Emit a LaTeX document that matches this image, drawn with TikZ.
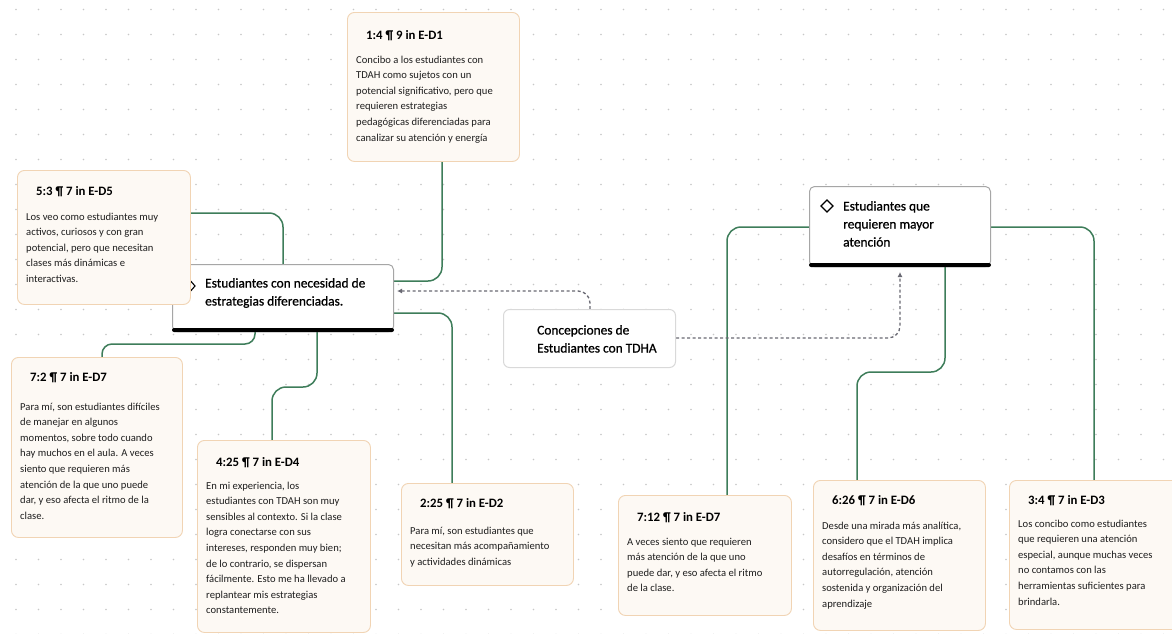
\documentclass[tikz,border=0pt]{standalone}
\usepackage{fontspec}
\setmainfont{Carlito}
\newfontfamily\headfont[FakeBold=0.8]{Carlito}
\usetikzlibrary{arrows.meta}
\definecolor{linkgreen}{RGB}{62,125,90}
\definecolor{quotefill}{RGB}{253,249,244}
\definecolor{quoteedge}{RGB}{241,212,180}
\definecolor{dashgray}{RGB}{105,105,115}
\definecolor{dotgray}{RGB}{200,200,200}
\definecolor{bodyink}{RGB}{30,30,30}
\pgfdeclarelayer{dots}
\pgfdeclarelayer{links}
\pgfsetlayers{dots,links,main}
\tikzset{
  conn/.style={draw=linkgreen, line width=1.5pt, rounded corners=14pt},
  link/.style={draw=dashgray, line width=1.3pt, dash pattern=on 3pt off 2.5pt,
    rounded corners=12pt, -{Latex[length=5pt,width=5pt]}},
  qframe/.style={draw=quoteedge, fill=quotefill, line width=0.9pt, rounded corners=7pt, inner sep=0pt},
  qtitle/.style={font=\bfseries\fontsize{12.8}{15}\selectfont, inner sep=0pt},
  qbody/.style={font=\fontsize{10.6}{15.6}\selectfont, text=bodyink, align=left, inner sep=0pt},
  topic/.style={draw=gray!70, fill=white, line width=1pt, rounded corners=5pt, inner sep=0pt},
  lighttopic/.style={draw=gray!30, fill=white, line width=1pt, rounded corners=6pt, inner sep=0pt},
  headtext/.style={font=\headfont\fontsize{13.4}{18}\selectfont, align=left, inner sep=0pt},
}
% quote card: name, left, top, right, bottom, title centre y, first body line centre y, title, body
\newcommand\quotecard[9]{%
  \node[qframe, anchor=north west, minimum width={#4-#2}, minimum height={#5-#3}] (#1) at (#2,#3) {};
  \node[qtitle, anchor=base west] (#1t) at (#2+19,#6+4.5) {#8};
  \node[qbody, anchor=north west] (#1b) at (#2+9,#7-5.5) {#9};
}
\begin{document}
\begin{tikzpicture}[x=1pt,y=-1pt]
\useasboundingbox (0,0) rectangle (1172,633);

% dotted canvas
\begin{pgfonlayer}{dots}
\fill[white] (0,0) rectangle (1172,633);
\foreach \i in {0,...,51}
  \foreach \j in {0,...,25}
    \fill[dotgray] (16+22.5*\i, 9.5+25*\j) circle (0.9pt);
\end{pgfonlayer}

\clip (0,0) rectangle (1172,633);

% left topic
\node[topic, anchor=north west, minimum width=221pt, minimum height=67pt] (m1) at (172,264) {};
\fill[black, rounded corners=2pt] ([yshift=4pt]m1.south west) rectangle (m1.south east);
\draw[line width=1.1pt, fill=white] (182,286) -- (188.5,278.5) -- (195,286) -- (188.5,293.5) -- cycle;
\node[headtext, anchor=north west] (m1t) at (205,278) {Estudiantes con necesidad de\\estrategias diferenciadas.};

% right topic
\node[topic, anchor=north west, minimum width=181pt, minimum height=80pt] (m2) at (809,186) {};
\fill[black, rounded corners=2pt] ([yshift=4pt]m2.south west) rectangle (m2.south east);
\draw[line width=1.1pt, fill=white] (821,206) -- (827,200) -- (833,206) -- (827,212) -- cycle;
\node[headtext, anchor=north west] (m2t) at (843,201) {Estudiantes que\\requieren mayor\\atención};

% central concept
\node[lighttopic, anchor=north west, minimum width=172pt, minimum height=58pt] (cc) at (503,309) {};
\node[headtext, anchor=north west] (cct) at (537,325) {Concepciones de\\Estudiantes con TDHA};

% quote cards
\quotecard{d14}{347}{12}{519}{161}{35}{61}{1:4 ¶ 9 in E-D1}
  {Concibo a los estudiantes con\\TDAH como sujetos con un\\potencial significativo, pero que\\requieren estrategias\\pedagógicas diferenciadas para\\canalizar su atención y energía}
\quotecard{d53}{17}{170}{190}{304}{191}{218}{5:3 ¶ 7 in E-D5}
  {Los veo como estudiantes muy\\activos, curiosos y con gran\\potencial, pero que necesitan\\clases más dinámicas e\\interactivas.}
\quotecard{d72}{11}{357}{182}{537}{377}{408}{7:2 ¶ 7 in E-D7}
  {Para mí, son estudiantes difíciles\\de manejar en algunos\\momentos, sobre todo cuando\\hay muchos en el aula. A veces\\siento que requieren más\\atención de la que uno puede\\dar, y eso afecta el ritmo de la\\clase.}
\quotecard{d425}{197}{440}{370}{632}{462}{487}{4:25 ¶ 7 in E-D4}
  {En mi experiencia, los\\estudiantes con TDAH son muy\\sensibles al contexto. Si la clase\\logra conectarse con sus\\intereses, responden muy bien;\\de lo contrario, se dispersan\\fácilmente. Esto me ha llevado a\\replantear mis estrategias\\constantemente.}
\quotecard{d225}{401}{483}{573}{585}{503}{532}{2:25 ¶ 7 in E-D2}
  {Para mí, son estudiantes que\\necesitan más acompañamiento\\y actividades dinámicas}
\quotecard{d712}{618}{495}{791}{615}{517}{543}{7:12 ¶ 7 in E-D7}
  {A veces siento que requieren\\más atención de la que uno\\puede dar, y eso afecta el ritmo\\de la clase.}
\quotecard{d626}{813}{480}{985}{630}{500}{527}{6:26 ¶ 7 in E-D6}
  {Desde una mirada más analítica,\\considero que el TDAH implica\\desafíos en términos de\\autorregulación, atención\\sostenida y organización del\\aprendizaje}
\quotecard{d34}{1009}{480}{1185}{629}{500}{525}{3:4 ¶ 7 in E-D3}
  {Los concibo como estudiantes\\que requieren una atención\\especial, aunque muchas veces\\no contamos con las\\herramientas suficientes para\\brindarla.}

% connectors
\begin{pgfonlayer}{links}
\draw[conn] (m1.east |- 0,281) -- (442,281) -- (d14.south -| 442,0);
\draw[conn] (d53.east |- 0,213) -- (283,213) -- (m1.north -| 283,0);
\draw[conn] (m1.east |- 0,313) -- (452,313) -- (d225.north -| 452,0);
\draw[conn, rounded corners=10pt] (m1.south -| 255,0) -- (255,344) -- (102,344) -- (d72.north -| 102,0);
\draw[conn] (m1.south -| 317,0) -- (317,387) -- (272,387) -- (d425.north -| 272,0);
\draw[conn] (m2.west |- 0,227) -- (727,227) -- (d712.north -| 727,0);
\draw[conn] (m2.east |- 0,227) -- (1094,227) -- (d34.north -| 1094,0);
\draw[conn] (m2.south -| 945,0) -- (945,372) -- (857,372) -- (d626.north -| 857,0);
\draw[link, shorten >=3pt] (cc.north -| 590,0) -- (590,291) -- (m1.east |- 0,291);
\draw[link, shorten >=5pt] (cc.east |- 0,338) -- (900,338) -- (m2.south -| 900,0);
\end{pgfonlayer}
\end{tikzpicture}
\end{document}
